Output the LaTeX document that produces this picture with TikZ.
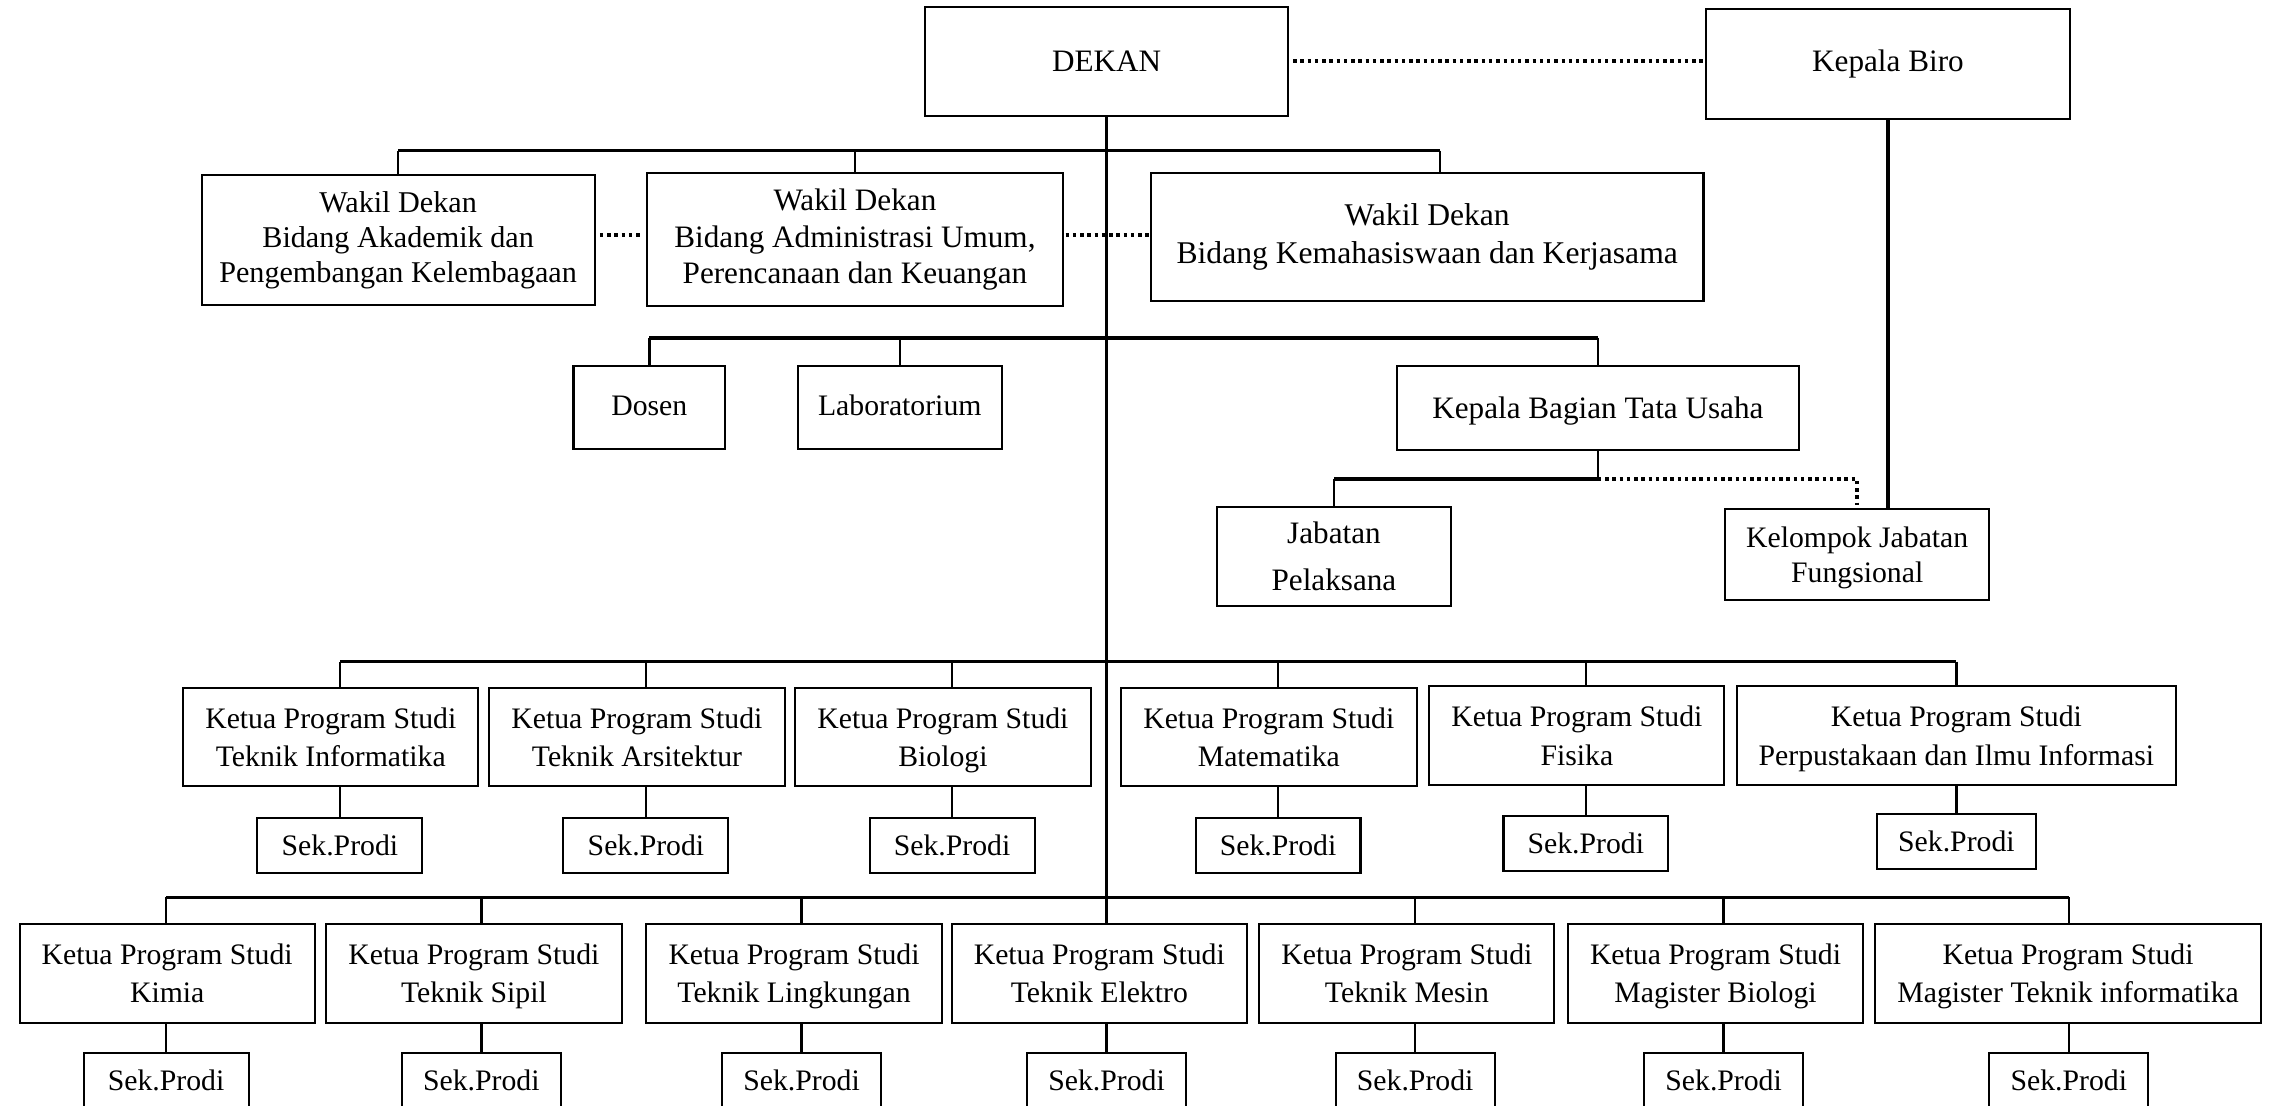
\documentclass[tikz,border=0pt]{standalone}
\usepackage{fontspec}
\setmainfont{Liberation Serif}
\usetikzlibrary{calc}

\tikzset{
  unit/.style={draw, line width=1.4pt, fill=white, align=center, inner sep=1pt,
    font=\fontsize{20.5}{26.5}\selectfont},
  topunit/.style={unit, font=\fontsize{21.5}{24}\selectfont},
  prodi/.style={unit, minimum height=68, text depth=0pt},
  sekunit/.style={unit, minimum width=109.5, minimum height=38},
  trunk/.style={line width=2.4pt},
  bus/.style={line width=2.4pt},
  stub/.style={line width=1.7pt},
  dotline/.style={line width=2.6pt, dash pattern=on 2.4pt off 2.6pt},
}

\begin{document}
\begin{tikzpicture}[x=1pt, y=-1pt]
            \useasboundingbox (0,0) rectangle (1568,762);

            % Nodes
            \node[topunit, minimum width=250, minimum height=75.5] (dekan) at (763, 42.3) {DEKAN};
            \node[topunit, minimum width=250.4, minimum height=75.8] (biro) at (1301.8, 43.9) {Kepala Biro};
            \node[topunit, font=\fontsize{20.8}{24}\selectfont, minimum width=271, minimum height=89] (wd1) at (274.5, 165.5) {Wakil Dekan\\Bidang Akademik dan\\Pengembangan Kelembagaan};
            \node[topunit, font=\fontsize{21.5}{25}\selectfont, minimum width=287, minimum height=91.5] (wd2) at (589.5, 165.2) {Wakil Dekan\\Bidang Administrasi Umum,\\Perencanaan dan Keuangan};
            \node[topunit, font=\fontsize{21.8}{26}\selectfont, minimum width=381, minimum height=88.6] (wd3) at (984.1, 163.4) {Wakil Dekan\\Bidang Kemahasiswaan dan Kerjasama};
            \node[unit, minimum width=104.5, minimum height=57] (dosen) at (447.7, 281) {\raisebox{3pt}{Dosen}};
            \node[unit, minimum width=140.8, minimum height=57] (lab) at (620.4, 281) {\raisebox{3pt}{Laboratorium}};
            \node[topunit, text depth=0pt, minimum width=276.8, minimum height=57.8] (kbtu) at (1101.8, 281.1) {Kepala Bagian Tata Usaha};
            \node[topunit, font=\fontsize{21.5}{30}\selectfont, minimum width=161.6, minimum height=68.2] (jp) at (919.8, 383.6) {Jabatan\\\raisebox{-2pt}{Pelaksana}};
            \node[unit, font=\fontsize{20.5}{24}\selectfont, text depth=0pt, minimum width=182.3, minimum height=62.7] (kjf) at (1280.6, 382.5) {Kelompok Jabatan\\Fungsional};

            % Program studi, first row
            \node[prodi, minimum width=203.6] (kti) at (228.1, 508.2) {Ketua Program Studi\\Teknik Informatika};
            \node[prodi, minimum width=203.5] (kta) at (439.2, 508.2) {Ketua Program Studi\\Teknik Arsitektur};
            \node[prodi, minimum width=203.6] (kbio) at (650.2, 508.2) {Ketua Program Studi\\Biologi};
            \node[prodi, minimum width=204] (kmat) at (874.9, 508.2) {Ketua Program Studi\\Matematika};
            \node[prodi, minimum width=203.4] (kfis) at (1087.3, 507.2) {Ketua Program Studi\\Fisika};
            \node[prodi, minimum width=302.5] (kperp) at (1349, 507.2) {Ketua Program Studi\\Perpustakaan dan Ilmu Informasi};
            \node[sekunit, minimum width=113.8] (sti) at (234.4, 582.7) {Sek.Prodi};
            \node[sekunit, minimum width=113.8] (sta) at (445.4, 582.7) {Sek.Prodi};
            \node[sekunit, minimum width=113.8] (sbio) at (656.5, 582.7) {Sek.Prodi};
            \node[sekunit, minimum width=113.6] (smat) at (881.3, 582.7) {Sek.Prodi};
            \node[sekunit, minimum width=113.6] (sfis) at (1093.5, 581.5) {Sek.Prodi};
            \node[sekunit] (sperp) at (1349, 580) {Sek.Prodi};

            % Program studi, second row
            \node[prodi, minimum width=203.5] (kkim) at (115.3, 671.2) {Ketua Program Studi\\Kimia};
            \node[prodi, minimum width=203.6] (ksip) at (326.8, 671.2) {Ketua Program Studi\\Teknik Sipil};
            \node[prodi, minimum width=203.5] (klin) at (547.5, 671.2) {Ketua Program Studi\\Teknik Lingkungan};
            \node[prodi, minimum width=203.5] (kele) at (758, 671.2) {Ketua Program Studi\\Teknik Elektro};
            \node[prodi, minimum width=203.4] (kmes) at (970.1, 671.2) {Ketua Program Studi\\Teknik Mesin};
            \node[prodi, minimum width=203.4] (kmbio) at (1182.9, 671.2) {Ketua Program Studi\\Magister Biologi};
            \node[prodi, minimum width=266.4] (kmti) at (1426, 671.2) {Ketua Program Studi\\Magister Teknik informatika};
            \node[sekunit, minimum width=113.8] (skim) at (114.5, 745) {Sek.Prodi};
            \node[sekunit] (ssip) at (331.9, 745) {Sek.Prodi};
            \node[sekunit] (slin) at (552.7, 745) {Sek.Prodi};
            \node[sekunit] (sele) at (763, 745) {Sek.Prodi};
            \node[sekunit] (smes) at (975.8, 745) {Sek.Prodi};
            \node[sekunit] (smbio) at (1188.5, 745) {Sek.Prodi};
            \node[sekunit] (smti) at (1426.5, 745) {Sek.Prodi};

            % Bus levels
            \coordinate (bus1) at (763, 103.8);
            \coordinate (bus2) at (763, 233);
            \coordinate (bus3) at (763, 456.2);
            \coordinate (bus4) at (763, 618.7);
            \coordinate (br) at (1101.8, 330.4);
            \coordinate (wd3s) at ($(wd3.north)+(8.8,0)$);

            % Lines
            \draw[trunk] (dekan.south) -- (dekan.south |- kele.north);
            \draw[trunk] (sele.north |- kele.south) -- (sele.north);

            \draw[bus] (wd1.north |- bus1) -- (wd3s |- bus1);
            \draw[stub] (wd1.north |- bus1) -- (wd1.north);
            \draw[stub] (wd2.north |- bus1) -- (wd2.north);
            \draw[stub] (wd3s |- bus1) -- (wd3s);

            \draw[bus] (dosen.north |- bus2) -- (kbtu.north |- bus2);
            \draw[stub] (dosen.north |- bus2) -- (dosen.north);
            \draw[stub] (lab.north |- bus2) -- (lab.north);
            \draw[stub] (kbtu.north |- bus2) -- (kbtu.north);

            \draw[stub] (kbtu.south) -- (br);
            \draw[bus] (br) -- (jp.north |- br);
            \draw[stub] (jp.north |- br) -- (jp.north);
            \draw[dotline, shorten >=2pt] (br) -- (kjf.north |- br) -- (kjf.north);
            \draw[trunk] (biro.south) -- (biro.south |- kjf.north);

            \draw[dotline, shorten <=3pt] (dekan.east) -- (dekan.east -| biro.west);
            \draw[dotline, shorten <=3pt, shorten >=3pt] (wd1.east |- 0,162) -- (wd2.west |- 0,162);
            \draw[dotline, shorten <=1pt] (wd2.east |- 0,162) -- (wd3.west |- 0,162);

            \draw[bus] (sti.north |- bus3) -- (sperp.north |- bus3);
            \draw[stub] (sti.north |- bus3) -- (sti.north |- kti.north);
            \draw[stub] (sta.north |- bus3) -- (sta.north |- kta.north);
            \draw[stub] (sbio.north |- bus3) -- (sbio.north |- kbio.north);
            \draw[stub] (smat.north |- bus3) -- (smat.north |- kmat.north);
            \draw[stub] (sfis.north |- bus3) -- (sfis.north |- kfis.north);
            \draw[stub] (sperp.north |- bus3) -- (sperp.north |- kperp.north);
            \draw[stub] (sti.north |- kti.south) -- (sti.north);
            \draw[stub] (sta.north |- kta.south) -- (sta.north);
            \draw[stub] (sbio.north |- kbio.south) -- (sbio.north);
            \draw[stub] (smat.north |- kmat.south) -- (smat.north);
            \draw[stub] (sfis.north |- kfis.south) -- (sfis.north);
            \draw[stub] (sperp.north |- kperp.south) -- (sperp.north);

            \draw[bus] (skim.north |- bus4) -- (smti.north |- bus4);
            \draw[stub] (skim.north |- bus4) -- (skim.north |- kkim.north);
            \draw[stub] (ssip.north |- bus4) -- (ssip.north |- ksip.north);
            \draw[stub] (slin.north |- bus4) -- (slin.north |- klin.north);
            \draw[stub] (smes.north |- bus4) -- (smes.north |- kmes.north);
            \draw[stub] (smbio.north |- bus4) -- (smbio.north |- kmbio.north);
            \draw[stub] (smti.north |- bus4) -- (smti.north |- kmti.north);
            \draw[stub] (skim.north |- kkim.south) -- (skim.north);
            \draw[stub] (ssip.north |- ksip.south) -- (ssip.north);
            \draw[stub] (slin.north |- klin.south) -- (slin.north);
            \draw[stub] (smes.north |- kmes.south) -- (smes.north);
            \draw[stub] (smbio.north |- kmbio.south) -- (smbio.north);
            \draw[stub] (smti.north |- kmti.south) -- (smti.north);
        \end{tikzpicture}
\end{document}
